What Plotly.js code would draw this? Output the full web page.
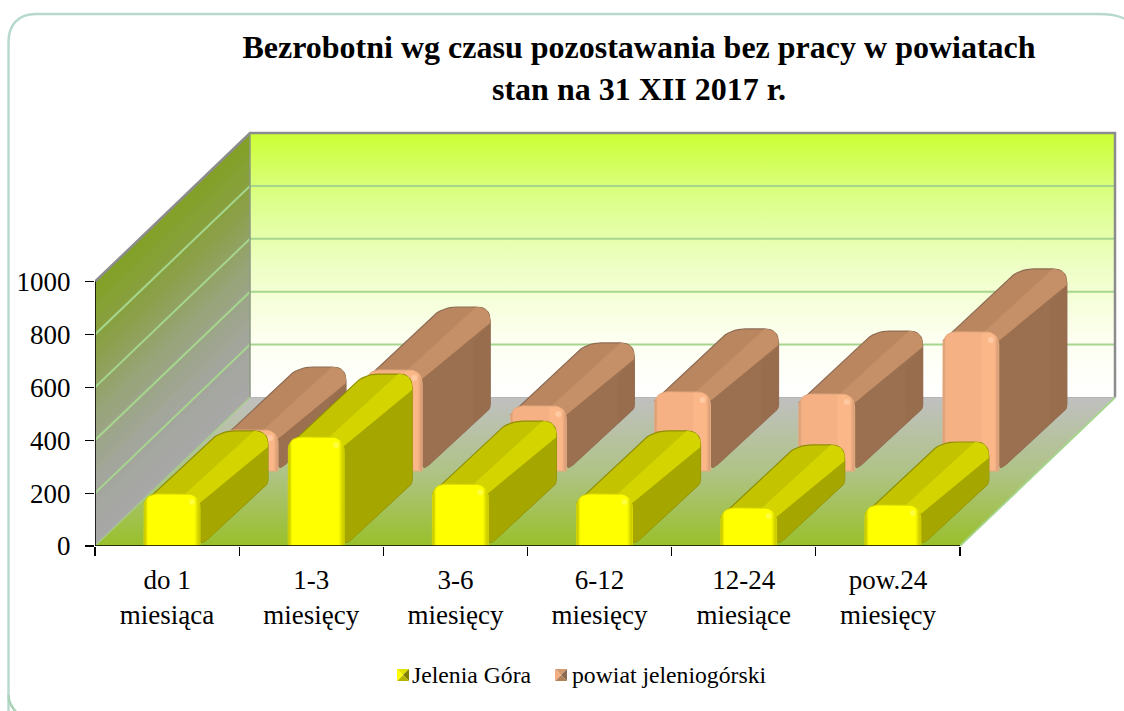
<!DOCTYPE html>
<html><head><meta charset="utf-8">
<script src="https://cdn.plot.ly/plotly-3.0.1.min.js"></script>
<style>html,body{margin:0;padding:0;background:#fff}#c{width:1124px;height:711px}</style>
</head><body><div id="c"></div>
<script>
const categories=['do 1<br>miesiąca','1-3<br>miesięcy','3-6<br>miesięcy','6-12<br>miesięcy','12-24<br>miesiące','pow.24<br>miesięcy'];
const seriesNames=['Jelenia Góra','powiat jeleniogórski'];
const jeleniaGora=[197,412,234,197,144,155];
const powiat=[155,382,246,299,291,526];
const yTicks=[0,200,400,600,800,1000];
const titleLine1='Bezrobotni wg czasu pozostawania bez pracy w powiatach';
const titleLine2='stan na 31 XII 2017 r.';

const W=1124,H=711,L=95,R=4,T=125,B=165;
const SX=865/6,SY=0.2644;           // px per category, px per value
const DX=155/SX,DY=148.5/SY;        // oblique depth in axis units
const OFF=49/SX,BW=56/SX;           // bar offset and width in a category
const ROWS=[[0,0,68,63],[78,75,146,138]];   // oblique depth of each series: front dx,dy then back dx,dy
const P=(x,z,v)=>[x+z*DX,v+z*DY];
const Q=(x,dx,dy,v)=>[x+dx/SX,v+dy/SY];
const px=x=>(x-L)/(W-L-R), py=y=>1-(y-T)/(H-T-B);
const common={mode:'lines',hoverinfo:'skip',showlegend:false};
const traces=[];

function poly(pts,fill,line,lw,grad){
  const xs=pts.map(p=>p[0]).concat(pts[0][0]),ys=pts.map(p=>p[1]).concat(pts[0][1]);
  const t=Object.assign({},common,{x:xs,y:ys,fill:'toself',line:{color:line||fill||'rgba(0,0,0,0)',width:lw===undefined?0:lw}});
  if(grad)t.fillgradient=grad; else t.fillcolor=fill;
  traces.push(t);
}
function seg(pts,color,width,noclip){
  traces.push(Object.assign({},common,{x:pts.map(p=>p[0]),y:pts.map(p=>p[1]),line:{color,width},cliponaxis:!noclip}));
}
function rounded(pts,rs){
  const out=[],n=pts.length;
  const d=(a,b)=>Math.hypot((a[0]-b[0])*SX,(a[1]-b[1])*SY);
  const lerp=(a,b,t)=>[a[0]+(b[0]-a[0])*t,a[1]+(b[1]-a[1])*t];
  for(let i=0;i<n;i++){
    const p=pts[i],a=pts[(i+n-1)%n],b=pts[(i+1)%n],r=rs[i]||0;
    if(!r){out.push(p);continue;}
    const s=lerp(p,a,r/d(p,a)),e=lerp(p,b,r/d(p,b));
    for(let k=0;k<=8;k++){
      const t=k/8;
      out.push(lerp(lerp(s,p,t),lerp(p,e,t),t));
    }
  }
  return out;
}
function mix(stops,v){
  for(let i=1;i<stops.length;i++){
    if(v>=stops[i][0]){
      const a=stops[i],b=stops[i-1],t=(v-a[0])/(b[0]-a[0]);
      const c=j=>Math.round(a[1][j]+(b[1][j]-a[1][j])*t);
      return `rgb(${c(0)},${c(1)},${c(2)})`;
    }
  }
  return `rgb(${stops[0][1].join(',')})`;
}
// ---- walls
const backGrad={type:'vertical',start:DY,stop:DY+1000,colorscale:[[0,'#ffffff'],[0.22,'#fdfff0'],[0.5,'#eeffc4'],[0.75,'#dcff8a'],[1,'#ccff33']]};
poly([P(0,1,0),P(6,1,0),P(6,1,1000),P(0,1,1000)],null,null,0,backGrad);
const wallStops=[[1000,[130,161,38]],[750,[139,160,72]],[500,[152,164,122]],[250,[163,166,156]],[0,[168,168,168]]];
for(let v=1000;v>0;v-=20){
  poly([P(0,0,0),P(0,0,v),P(0,1,v),P(0,1,0)],mix(wallStops,v));
}
poly([P(0,0,0),P(0,1,0),P(6,1,0),P(6,0,0)],null,null,0,{type:'vertical',start:0,stop:DY,colorscale:[[0,'#99c02a'],[0.5,'#afc386'],[1,'#c0c0c0']]});
for(const v of yTicks.slice(1,-1)){
  seg([P(0,0,v),P(0,1,v),P(6,1,v)],'#a6d68e',2);
}
seg([P(0,0,1000),P(0,1,1000),P(6,1,1000),P(6,1,0)],'#8c8c8c',2.5);
seg([P(0,1,1000),P(0,1,0)],'#8c9a80',1.5);
seg([P(0,1,0),P(6,1,0)],'#b5b5b5',1);
seg([P(0,0,0),P(0,1,0)],'#a6cf88',1.2);
seg([P(6,1,0),P(6,0,0)],'#a6d68e',1.8);
// ---- bars
const CH=9/SY, CX=8/SX;  // size of the bevel in axis units
function bar(i,row,v,c){
  const x0=i+OFF,x1=x0+BW,[fx,fy,bx,by]=ROWS[row];
  const A=Q(x0,fx,fy,v-CH),Bk=Q(x0+CX,bx,by,v),Cc=Q(x1,bx,by,v),Dd=Q(x1,bx,by,0),E=Q(x1,fx,fy,0),Fr=Q(x1,fx,fy,v-CH);
  poly(rounded([A,Bk,Cc,Dd,E,Fr],[0,15,14,3,9,0]),c.top,c.edge,1.2);
  const Br=Q(x1,bx,by,v-16/SY);
  const b0=x1-15/SX;
  poly(rounded([Q(b0,fx,fy,v),Q(b0,bx,by,v),Cc,Br,Fr],[0,0,14,0,0]),c.band);
  poly(rounded([Fr,Br,Dd,E],[0,0,3,9]),c.side);
  if(c.sideBand) poly([Q(x1,bx-17,by-16,v-18/SY),Q(x1,bx,by,v-18/SY),Q(x1,bx,by,0),Q(x1,bx-17,by-16,0)],c.sideBand);
  const F=rounded([Q(x0,fx,fy,0),Q(x0,fx,fy,v),Q(x1,fx,fy,v),Q(x1,fx,fy,0)],[0,14,14,0]);
  const sx=x0+fx/SX;
  poly(F,null,c.frontEdge,1,{type:'horizontal',start:sx,stop:sx+BW,colorscale:c.front});
  const s=Q(x1-8/SX,fx,fy,v-8/SY);
  traces.push(Object.assign({},common,{mode:'markers',x:[s[0]],y:[s[1]],marker:{size:6,color:c.spot,opacity:0.55,line:{width:0}}}));
}
const yel={top:'#c3c300',band:'#d4d400',side:'#a6a600',edge:'#8f8f00',frontEdge:'#d8d800',spot:'#ffff70',
  front:[[0,'#b5b500'],[0.07,'#ffff00'],[0.9,'#ffff00'],[1,'#c0c000']]};
const bro={top:'#b98660',band:'#c59068',side:'#9b7050',sideBand:'#976d4e',edge:'#8f6c54',frontEdge:'#e8ab80',spot:'#ffd8b8',
  front:[[0,'#cf9872'],[0.06,'#f5b083'],[0.68,'#f5b083'],[0.71,'#fcb789'],[0.92,'#fcb789'],[1,'#cf9872']]};
powiat.forEach((v,i)=>bar(i,1,v,bro));
jeleniaGora.forEach((v,i)=>bar(i,0,v,yel));
// ---- axis lines
seg([[0,0],[0,1000]],'#000000',1.6,true);
seg([[0,0],[6,0]],'#000000',1.6,true);

// ---- decorations
const shapes=[];
function sPath(d,o){shapes.push(Object.assign({type:'path',xref:'paper',yref:'paper',layer:'below',path:d},o));}
const pp=(x,y)=>`${px(x)},${py(y)}`;
sPath(`M${pp(8.5,730)} L${pp(8.5,42)} C${pp(8.5,25)} ${pp(18,14)} ${pp(36,14)} L${pp(1095,14)} C${pp(1110,14)} ${pp(1120,15)} ${pp(1130,22)}`,{line:{color:'#b7d9cd',width:2.4}});
sPath(`M${pp(8.5,695)} C${pp(8.5,703)} ${pp(12,708)} ${pp(18,714)}`,{line:{color:'#a9d3b4',width:2.4}});
function swatch(x,y,s,cols){
  const c=[x+s/2,y+s/2];
  const corners=[[x,y],[x+s,y],[x+s,y+s],[x,y+s]];
  corners.forEach((a,i)=>{
    const b=corners[(i+1)%4];
    sPath(`M${pp(a[0],a[1])} L${pp(b[0],b[1])} L${pp(c[0],c[1])} Z`,{fillcolor:cols[i],line:{width:0},layer:'above'});
  });
}
swatch(397,669,12,['#e2e200','#7f7f00','#b5b500','#ffff00']);
swatch(555,669,12,['#d49a72','#8c6a50','#b08058','#f3ad80']);
const serif='Liberation Serif';
const annotations=[
  {text:seriesNames[0],x:px(410),y:py(675),xref:'paper',yref:'paper',xanchor:'left',yanchor:'middle',showarrow:false,font:{family:serif,size:23.7,color:'#000'}},
  {text:seriesNames[1],x:px(570),y:py(675),xref:'paper',yref:'paper',xanchor:'left',yanchor:'middle',showarrow:false,font:{family:serif,size:23.7,color:'#000'}},
  {text:'<b>'+titleLine2+'</b>',x:px(639),y:py(89),xref:'paper',yref:'paper',xanchor:'center',yanchor:'middle',showarrow:false,font:{family:serif,size:32,color:'#000'}}
];
const layout={
  width:W,height:H,margin:{l:L,r:R,t:T,b:B,pad:0},
  paper_bgcolor:'#fff',plot_bgcolor:'rgba(0,0,0,0)',showlegend:false,dragmode:false,
  font:{family:serif,color:'#000'},
  title:{text:titleLine1,x:639/W,xanchor:'center',xref:'container',y:1-36/H,yanchor:'top',yref:'container',font:{family:serif,size:32,color:'#000',weight:'bold'}},
  xaxis:{range:[0,(W-L-R)/SX],tickmode:'array',tickvals:categories.map((c,i)=>i+0.5),ticktext:categories,
    ticks:'',showgrid:false,zeroline:false,showline:false,tickangle:0,tickfont:{size:27,family:serif},ticklabelstandoff:15,fixedrange:true,
    minor:{tickmode:'array',tickvals:[0,1,2,3,4,5,6],ticks:'outside',ticklen:9,tickwidth:1.2,tickcolor:'#000',showgrid:false}},
  yaxis:{range:[0,(H-T-B)/SY],tickmode:'array',tickvals:yTicks,ticktext:yTicks.map(String),ticks:'outside',ticklen:9,tickwidth:1.2,tickcolor:'#000',
    showgrid:false,zeroline:false,showline:false,tickfont:{size:27,family:serif},ticklabelstandoff:9,fixedrange:true},
  shapes,annotations
};
Plotly.newPlot('c',traces,layout,{displayModeBar:false,staticPlot:true});
</script></body></html>
